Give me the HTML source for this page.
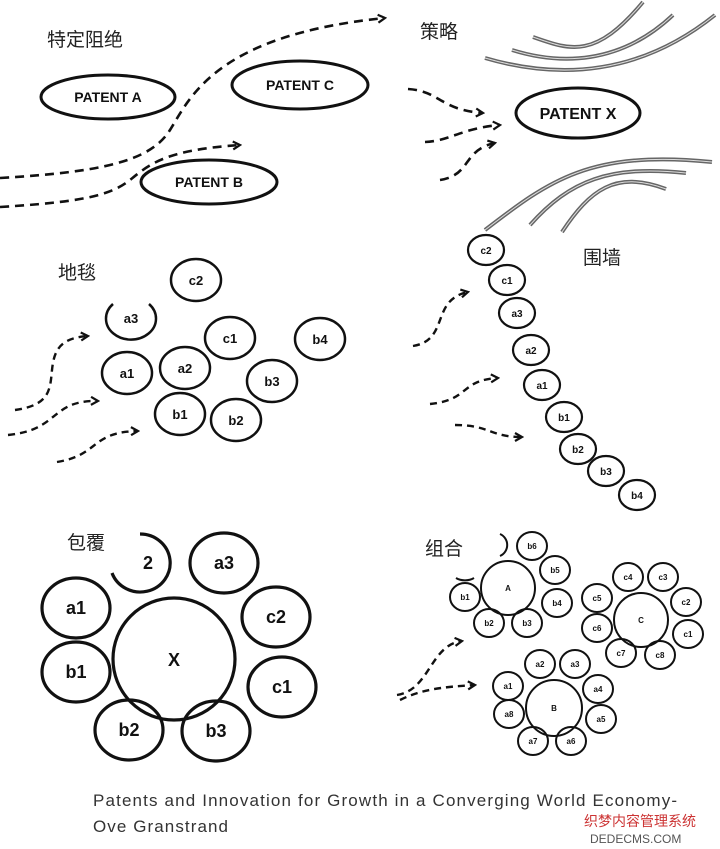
<!DOCTYPE html>
<html><head><meta charset="utf-8"><style>
body{margin:0;background:#fff}
svg{display:block}
.t{font-family:"Liberation Sans",sans-serif;font-weight:bold;fill:#111;text-anchor:middle}
.cn{font-family:"Liberation Sans","Noto Sans CJK SC",sans-serif;fill:#222;font-size:19px}
</style></head><body>
<svg width="720" height="849" viewBox="0 0 720 849" xmlns="http://www.w3.org/2000/svg">
<defs>
<marker id="ar" markerWidth="10" markerHeight="10" refX="8" refY="5" orient="auto" markerUnits="userSpaceOnUse"><path d="M1,1 L8,5 L1,9" fill="none" stroke="#111" stroke-width="2.2"/></marker>
</defs>
<g fill="none" stroke="#111">
<ellipse cx="108" cy="97" rx="67" ry="22" stroke-width="3"/>
<ellipse cx="300" cy="85" rx="68" ry="24" stroke-width="3"/>
<ellipse cx="209" cy="182" rx="68" ry="22" stroke-width="3"/>
<g stroke-width="2.6" stroke-dasharray="9,6" marker-end="url(#ar)">
<path d="M0,178 C100,172 150,162 170,130 S215,35 385,18"/>
<path d="M0,207 C80,202 110,196 130,180 S165,150 240,145"/>
<path d="M408,89 C440,91 440,110 483,113"/>
<path d="M425,142 C450,141 462,128 500,125"/>
<path d="M440,180 C472,175 462,150 495,143"/>
</g>
<ellipse cx="578" cy="113" rx="62" ry="25" stroke-width="3"/>
<g stroke="#666" stroke-width="4">
<path d="M533,37 C570,50 595,60 643,2"/>
<path d="M512,50 C560,65 620,65 673,15"/>
<path d="M485,58 C560,80 640,75 715,15"/>
<path d="M485,230 C550,180 590,150 712,162"/>
<path d="M530,225 C570,180 610,165 686,173"/>
<path d="M562,232 C590,190 615,170 666,189"/>
</g>
<g stroke="#ddd" stroke-width="1">
<path d="M533,37 C570,50 595,60 643,2"/>
<path d="M512,50 C560,65 620,65 673,15"/>
<path d="M485,58 C560,80 640,75 715,15"/>
<path d="M485,230 C550,180 590,150 712,162"/>
<path d="M530,225 C570,180 610,165 686,173"/>
<path d="M562,232 C590,190 615,170 666,189"/>
</g>
<g stroke-width="2.5">
<ellipse cx="196" cy="280" rx="25" ry="21"/>
<path d="M113,304 A25,21 0 1 0 149,304"/>
<ellipse cx="230" cy="338" rx="25" ry="21"/>
<ellipse cx="320" cy="339" rx="25" ry="21"/>
<ellipse cx="127" cy="373" rx="25" ry="21"/>
<ellipse cx="185" cy="368" rx="25" ry="21"/>
<ellipse cx="272" cy="381" rx="25" ry="21"/>
<ellipse cx="180" cy="414" rx="25" ry="21"/>
<ellipse cx="236" cy="420" rx="25" ry="21"/>
</g>
<g stroke-width="2.4" stroke-dasharray="7,5" marker-end="url(#ar)">
<path d="M15,410 C50,405 50,390 52,370 S60,338 88,336"/>
<path d="M8,435 C60,430 50,400 98,401"/>
<path d="M57,462 C100,455 90,432 138,431"/>
<path d="M413,346 C450,340 430,300 468,292"/>
<path d="M430,404 C470,400 460,380 498,378"/>
<path d="M455,425 C490,425 490,437 522,437"/>
<path d="M397,695 C430,690 430,645 462,641"/>
<path d="M400,700 C420,690 440,687 475,685"/>
</g>
<g stroke-width="2.2">
<ellipse cx="486" cy="250" rx="18" ry="15"/>
<ellipse cx="507" cy="280" rx="18" ry="15"/>
<ellipse cx="517" cy="313" rx="18" ry="15"/>
<ellipse cx="531" cy="350" rx="18" ry="15"/>
<ellipse cx="542" cy="385" rx="18" ry="15"/>
<ellipse cx="564" cy="417" rx="18" ry="15"/>
<ellipse cx="578" cy="449" rx="18" ry="15"/>
<ellipse cx="606" cy="471" rx="18" ry="15"/>
<ellipse cx="637" cy="495" rx="18" ry="15"/>
</g>
<g stroke-width="3.2">
<circle cx="174" cy="659" r="61"/>
<path d="M140,534 A30,29 0 1 1 112,573"/>
<ellipse cx="224" cy="563" rx="34" ry="30"/>
<ellipse cx="276" cy="617" rx="34" ry="30"/>
<ellipse cx="282" cy="687" rx="34" ry="30"/>
<ellipse cx="216" cy="731" rx="34" ry="30"/>
<ellipse cx="129" cy="730" rx="34" ry="30"/>
<ellipse cx="76" cy="672" rx="34" ry="30"/>
<ellipse cx="76" cy="608" rx="34" ry="30"/>
</g>
<g stroke-width="2">
<circle cx="508" cy="588" r="27"/>
<ellipse cx="532" cy="546" rx="15" ry="14"/>
<path d="M500,534 A12,12 0 0 1 500,556"/>
<ellipse cx="555" cy="570" rx="15" ry="14"/>
<ellipse cx="557" cy="603" rx="15" ry="14"/>
<ellipse cx="527" cy="623" rx="15" ry="14"/>
<ellipse cx="489" cy="623" rx="15" ry="14"/>
<ellipse cx="465" cy="597" rx="15" ry="14"/>
<path d="M456,578 A14,10 0 0 0 474,578"/>
<circle cx="641" cy="620" r="27"/>
<ellipse cx="628" cy="577" rx="15" ry="14"/>
<ellipse cx="663" cy="577" rx="15" ry="14"/>
<ellipse cx="686" cy="602" rx="15" ry="14"/>
<ellipse cx="688" cy="634" rx="15" ry="14"/>
<ellipse cx="660" cy="655" rx="15" ry="14"/>
<ellipse cx="621" cy="653" rx="15" ry="14"/>
<ellipse cx="597" cy="628" rx="15" ry="14"/>
<ellipse cx="597" cy="598" rx="15" ry="14"/>
<circle cx="554" cy="708" r="28"/>
<ellipse cx="540" cy="664" rx="15" ry="14"/>
<ellipse cx="575" cy="664" rx="15" ry="14"/>
<ellipse cx="598" cy="689" rx="15" ry="14"/>
<ellipse cx="601" cy="719" rx="15" ry="14"/>
<ellipse cx="571" cy="741" rx="15" ry="14"/>
<ellipse cx="533" cy="741" rx="15" ry="14"/>
<ellipse cx="509" cy="714" rx="15" ry="14"/>
<ellipse cx="508" cy="686" rx="15" ry="14"/>
</g>
</g>
<text class="cn" x="47" y="46">特定阻绝</text>
<text class="cn" x="420" y="38">策略</text>
<text class="cn" x="58" y="279">地毯</text>
<text class="cn" x="583" y="264">围墙</text>
<text class="cn" x="67" y="549">包覆</text>
<text class="cn" x="425" y="555">组合</text>
<g class="t" font-size="14">
<text x="108" y="102">PATENT A</text>
<text x="300" y="90">PATENT C</text>
<text x="209" y="187">PATENT B</text>
<text x="578" y="119" font-size="16">PATENT X</text>
</g>
<g class="t" font-size="13">
<text x="196" y="285">c2</text><text x="131" y="323">a3</text><text x="230" y="343">c1</text>
<text x="320" y="344">b4</text><text x="127" y="378">a1</text><text x="185" y="373">a2</text>
<text x="272" y="386">b3</text><text x="180" y="419">b1</text><text x="236" y="425">b2</text>
</g>
<g class="t" font-size="10">
<text x="486" y="254">c2</text><text x="507" y="284">c1</text><text x="517" y="317">a3</text>
<text x="531" y="354">a2</text><text x="542" y="389">a1</text><text x="564" y="421">b1</text>
<text x="578" y="453">b2</text><text x="606" y="475">b3</text><text x="637" y="499">b4</text>
</g>
<g class="t" font-size="18">
<text x="174" y="666">X</text><text x="148" y="569">2</text><text x="224" y="569">a3</text>
<text x="276" y="623">c2</text><text x="282" y="693">c1</text><text x="216" y="737">b3</text>
<text x="129" y="736">b2</text><text x="76" y="678">b1</text><text x="76" y="614">a1</text>
</g>
<g class="t" font-size="8" font-weight="normal">
<text x="508" y="591">A</text><text x="532" y="549">b6</text><text x="555" y="573">b5</text>
<text x="557" y="606">b4</text><text x="527" y="626">b3</text><text x="489" y="626">b2</text>
<text x="465" y="600">b1</text>
<text x="641" y="623">C</text><text x="628" y="580">c4</text><text x="663" y="580">c3</text>
<text x="686" y="605">c2</text><text x="688" y="637">c1</text><text x="660" y="658">c8</text>
<text x="621" y="656">c7</text><text x="597" y="631">c6</text><text x="597" y="601">c5</text>
<text x="554" y="711">B</text><text x="540" y="667">a2</text><text x="575" y="667">a3</text>
<text x="598" y="692">a4</text><text x="601" y="722">a5</text><text x="571" y="744">a6</text>
<text x="533" y="744">a7</text><text x="509" y="717">a8</text><text x="508" y="689">a1</text>
</g>
<g font-family="'Liberation Sans',sans-serif" font-size="17" fill="#333">
<text x="93" y="806" textLength="584" lengthAdjust="spacing">Patents and Innovation for Growth in a  Converging World Economy-</text>
<text x="93" y="832" textLength="135" lengthAdjust="spacing">Ove Granstrand</text>
</g>
<text x="584" y="826" font-family="'Liberation Sans','Noto Sans CJK SC',sans-serif" font-size="14" fill="#c33">织梦内容管理系统</text>
<text x="590" y="843" font-family="'Liberation Sans',sans-serif" font-size="12" fill="#555">DEDECMS.COM</text>
</svg>
</body></html>
